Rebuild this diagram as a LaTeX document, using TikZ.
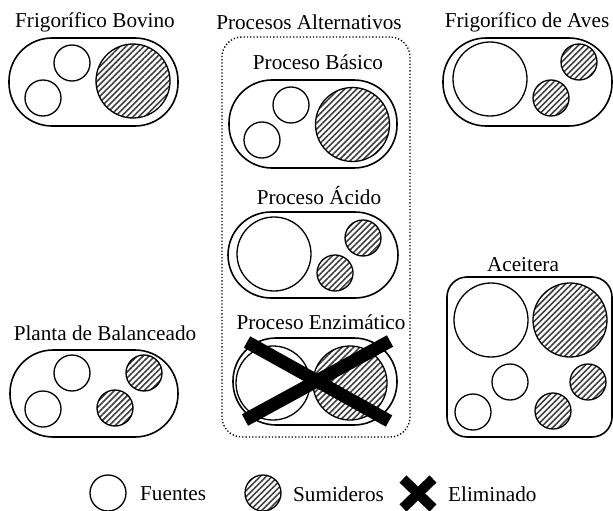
\documentclass[tikz,border=0pt]{standalone}
\usepackage{fontspec}
\setmainfont{Liberation Serif}
\usetikzlibrary{patterns.meta}

\begin{document}
\begin{tikzpicture}[x=1pt,y=-1pt,
    fuente/.style={circle,draw,line width=1.3pt,fill=white,inner sep=0pt},
    sumidero/.style={fuente,pattern={Lines[angle=45,distance=4.2pt,line width=1.6pt]},pattern color=black!75},
    planta/.style={draw,line width=1.6pt,inner sep=0pt,rounded corners=43pt},
    titulo/.style={font=\fontsize{21.2}{25}\selectfont,inner sep=0pt}]

      \useasboundingbox (0,0) rectangle (613,511);

      % contenedores
      \node[planta,minimum width=169pt,minimum height=88pt] (bov) at (93.5,82) {};
      \node[planta,minimum width=169pt,minimum height=88pt] (ave) at (527.5,82) {};
      \node[planta,minimum width=168pt,minimum height=87pt] (bal) at (94,393.5) {};
      \node[planta,rounded corners=20pt,minimum width=165pt,minimum height=160pt] (ace) at (529.5,357) {};
      \node[draw,dotted,line width=1.3pt,rounded corners=20pt,inner sep=0pt,
            minimum width=188pt,minimum height=400pt] (alt) at (316,237) {};
      \node[planta,minimum width=168pt,minimum height=88pt] (bas) at (313,124) {};
      \node[planta,minimum width=170pt,minimum height=86pt] (aci) at (313,255) {};
      \node[planta,minimum width=164pt,minimum height=87pt] (enz) at (315,381.5) {};

      % titulos
      \begin{scope}[every node/.style={titulo}]
        \node (t1) at (95,22)    {Frigorífico Bovino};
        \node (t2) at (309,22)   {Procesos Alternativos};
        \node (t3) at (527,22)   {Frigorífico de Aves};
        \node (t4) at (318,62)   {Proceso Básico};
        \node (t5) at (319,196)  {Proceso Ácido};
        \node (t6) at (321,322)  {Proceso Enzimático};
        \node (t7) at (523,265)  {Aceitera};
        \node (t8) at (105,333)  {Planta de Balanceado};
      \end{scope}

      % fuentes
      \begin{scope}[every node/.style={fuente,minimum size=36pt}]
        \node (1)  at (72,63)   {};
        \node (2)  at (43,98)   {};
        \node (3)  at (291,105) {};
        \node (4)  at (262,140) {};
        \node (5)  at (72,373)  {};
        \node (6)  at (43,409)  {};
        \node (7)  at (510,382) {};
        \node (8)  at (473,412) {};
        \node (9)  at (108,493) {};
      \end{scope}
      \begin{scope}[every node/.style={fuente,minimum size=74pt}]
        \node (10) at (490,79)  {};
        \node (11) at (274,254) {};
        \node (12) at (273,383) {};
        \node (13) at (491,320) {};
      \end{scope}

      % sumideros
      \begin{scope}[every node/.style={sumidero,minimum size=36pt}]
        \node (14) at (579,62)  {};
        \node (15) at (551,98)  {};
        \node (16) at (363,238) {};
        \node (17) at (335,273) {};
        \node (18) at (144,373) {};
        \node (19) at (115,408) {};
        \node (20) at (588,382) {};
        \node (21) at (553,411) {};
        \node (22) at (263,493) {};
      \end{scope}
      \begin{scope}[every node/.style={sumidero,minimum size=74pt}]
        \node (23) at (133,81)    {};
        \node (24) at (352.5,124.5) {};
        \node (25) at (350,383)   {};
        \node (26) at (570,320)   {};
      \end{scope}

      % eliminado
      \draw[line width=13pt] (247,342) -- (389,421);
      \draw[line width=13pt] (390,341) -- (245,420);
      \draw[line width=10pt] (403,479) -- (433,508);
      \draw[line width=10pt] (433,479) -- (403,508);

      % leyenda
      \begin{scope}[every node/.style={titulo,anchor=west}]
        \node (l1) at (140,494) {Fuentes};
        \node (l2) at (293,494) {Sumideros};
        \node (l3) at (448,494) {Eliminado};
      \end{scope}

    \end{tikzpicture}
\end{document}
